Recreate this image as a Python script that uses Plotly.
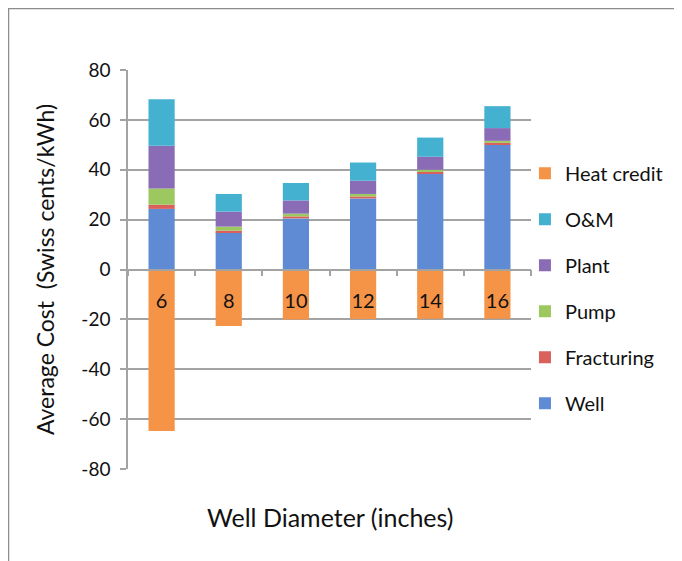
import plotly.graph_objects as go

# Well diameter categories (inches)
diameters = ["6", "8", "10", "12", "14", "16"]

# Stacked cost components (Swiss cents/kWh)
well = [24.3, 14.9, 20.5, 28.5, 38.4, 50.0]
fracturing = [1.7, 0.7, 0.8, 0.8, 0.7, 0.8]
pump = [6.5, 1.6, 1.1, 1.0, 0.9, 0.8]
plant = [17.1, 6.0, 5.3, 5.3, 5.2, 5.1]
om = [18.7, 7.1, 7.0, 7.3, 7.7, 8.8]
heat_credit = [-64.8, -22.7, -20.1, -19.8, -19.7, -19.7]

y_ticks = [-80, -60, -40, -20, 0, 20, 40, 60, 80]
y_tick_text = ["-80", "-60", "-40", "-20", "0", "20", "40", "60", "80"]

FONT = "Lato, 'Open Sans', sans-serif"
GRID = "#a3a3a3"

series = [
    ("Well", well, "#5f8bd4"),
    ("Fracturing", fracturing, "#d9605b"),
    ("Pump", pump, "#9cc85f"),
    ("Plant", plant, "#8a6bb5"),
    ("O&M", om, "#45b1d0"),
    ("Heat credit", heat_credit, "#f59347"),
]

fig = go.Figure()
for i, (name, vals, color) in enumerate(series):
    fig.add_trace(go.Bar(
        x=diameters, y=vals, name=name,
        marker=dict(color=color, line=dict(width=0)),
        legendgroup=f"g{i}",
        legendrank=len(series) - i,   # legend lists top of stack first
    ))

fig.update_layout(
    barmode="relative",
    bargap=0.61,
    width=674, height=553,
    margin=dict(l=120, r=151, t=62, b=92),
    paper_bgcolor="white",
    plot_bgcolor="white",
    font=dict(family=FONT, size=18, color="#111"),
    showlegend=True,
    legend=dict(
        x=0.985, y=0.79, xanchor="left", yanchor="top",
        traceorder="grouped", tracegroupgap=17,
        font=dict(size=20), itemwidth=30,
        bgcolor="rgba(0,0,0,0)",
    ),
    xaxis=dict(
        type="category",
        anchor="free", position=0.5,
        showline=True, linecolor=GRID, linewidth=1.5,
        ticks="outside", tickson="boundaries", ticklen=6,
        tickcolor=GRID, tickwidth=1.5,
        ticklabelstandoff=14,
        tickfont=dict(size=20),
        showgrid=False,
    ),
    yaxis=dict(
        range=[-80, 80], tickvals=y_ticks, ticktext=y_tick_text,
        showline=True, linecolor=GRID, linewidth=1.5,
        ticks="outside", ticklen=6, tickcolor=GRID, tickwidth=1.5,
        ticklabelstandoff=6,
        showgrid=True, gridcolor=GRID, gridwidth=1.5,
        zeroline=False,
        tickfont=dict(size=19),
        title=dict(text="Average Cost  (Swiss cents/kWh)",
                   font=dict(size=23), standoff=20),
    ),
)

# x-axis title sits well below the plot area
fig.add_annotation(
    text="Well Diameter (inches)", xref="paper", yref="paper",
    x=0.5, y=-0.12, xanchor="center", yanchor="middle",
    showarrow=False, font=dict(size=25),
)

# outer frame: top and left edges only
fig.add_shape(type="line", xref="paper", yref="paper",
              x0=-0.2978, x1=1.4, y0=1.1554, y1=1.1554,
              line=dict(color="#8c8c8c", width=2.5))
fig.add_shape(type="line", xref="paper", yref="paper",
              x0=-0.2978, x1=-0.2978, y0=1.1554, y1=-0.3,
              line=dict(color="#8c8c8c", width=2.5))

fig.write_html("out.html")
